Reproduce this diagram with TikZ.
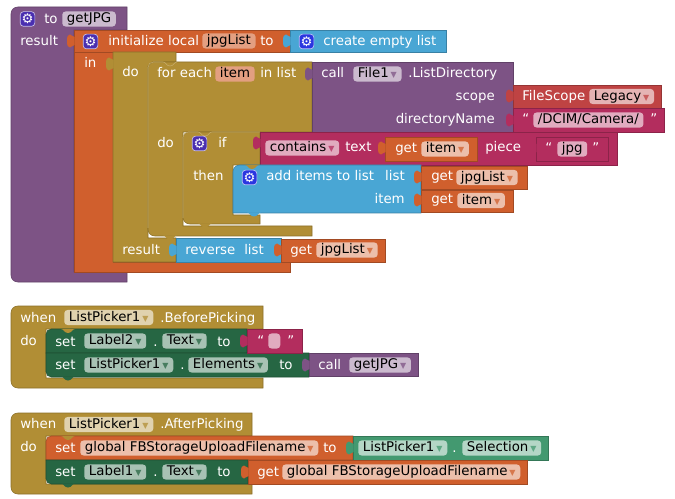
\documentclass[tikz,border=0pt]{standalone}
\usepackage{fontspec}
\setmainfont{DejaVu Sans}
\definecolor{cproc}{HTML}{7D5385}
\definecolor{cvar}{HTML}{D05F2D}
\definecolor{cctrl}{HTML}{B18E35}
\definecolor{clist}{HTML}{49A6D4}
\definecolor{ctext}{HTML}{B32D5E}
\definecolor{cset}{HTML}{266643}
\definecolor{cget}{HTML}{439970}
\definecolor{copt}{HTML}{BF4343}
\definecolor{cgear}{HTML}{4A2FB0}
\definecolor{cgearb}{HTML}{2A36E0}
\tikzset{
  block/.style={fill=#1,draw=#1!78!black,line width=.4pt},
  hilite/.style={draw=cctrl!72!white,line width=.4pt},
  lbl/.style={anchor=base west,inner sep=0pt,text=white},
  rlbl/.style={anchor=base east,inner sep=0pt,text=white},
  pill/.style={anchor=west,fill=#1,rounded corners=2.5pt,inner xsep=3.5pt,inner ysep=.9pt,text=black,text height=7.5pt,text depth=2pt},
  gearbox/.style={fill=#1,draw=white!70!#1,line width=.5pt,rounded corners=2.5pt,minimum size=11pt,inner sep=0pt,text=white,font=\fontsize{10}{10}\selectfont}
}
\newcommand{\tabat}[3]{\begin{scope}[shift={(#1,#2)}]
    \fill [#3] (.5,-4) .. controls (-2,-4) and (-2,-6.5) .. (-4,-6.5) .. controls (-6,-6.5) and (-7,-5) .. (-7,0) .. controls (-7,5) and (-6,6.5) .. (-4,6.5) .. controls (-2,6.5) and (-2,4) .. (.5,4) -- cycle;
  \end{scope}}
\newcommand{\notchat}[3]{\begin{scope}[shift={(#1,#2)}]
    \fill [#3] (0,0) .. controls (3,0) and (3,4) .. (7,4) .. controls (11,4) and (11,0) .. (14,0) -- cycle;
  \end{scope}}
\newcommand{\drop}[1]{\hspace{1.5pt}{\color{#1!85!white}\fontsize{6}{6}\selectfont ▼}}

\begin{document}
\begin{tikzpicture}[x=.75pt,y=-.75pt,font=\fontsize{10}{12}\selectfont]
  \useasboundingbox (0,0) rectangle (675,499);

  % function block
  \draw [block=cproc] (127,7) -- (127,30) -- (74,30) -- (74,272) -- (127,272) -- (127,282) [rounded corners=5pt] -- (11,282) -- (11,7) [sharp corners] -- (127,7) -- cycle;
  \draw [block=cvar] (74,30) rectangle (290,52);
  \draw [block=cvar] (74,52) -- (113,52) -- (113,262) -- (290,262) -- (290,272) -- (74,272) -- cycle;
  \draw [block=cctrl] (176,52) -- (176,62) -- (152,62) -- (148,66) -- (148,238) -- (176,238) -- (176,262) -- (113,262) -- (113,52) -- cycle;
  \draw [block=clist] (290,30) rectangle (446,52);
  \draw [block=clist] (176,238) rectangle (281,262);
  \draw [block=cvar] (281,239) rectangle (385,262);

  % for each
  \draw [block=cctrl] (312,62) -- (312,132) -- (183,132) -- (183,226) -- (312,226) -- (312,236) [rounded corners=5pt] -- (148,236) -- (148,62) [sharp corners] -- (312,62) -- cycle;
  \notchat{163}{235.5}{cctrl}
  \draw [hilite] (148,228) [rounded corners=4pt] -- (148,62) [sharp corners] -- (163,62) .. controls (166,62) and (166,66) .. (170,66) .. controls (174,66) and (174,62) .. (177,62);
  \draw [block=cproc] (312,62) rectangle (513,132);
  \draw [block=copt] (513,85) rectangle (661,108);
  \draw [block=ctext] (513,108.5) rectangle (664,132);

  % if then
  \draw [block=cctrl] (260,132) -- (260,165) -- (233,165) -- (233,215) -- (260,215) -- (260,224) [rounded corners=5pt] -- (183,224) -- (183,132) [sharp corners] -- (260,132) -- cycle;
  \notchat{198}{223.5}{cctrl}
  \draw [hilite] (183,218) [rounded corners=4pt] -- (183,132) [sharp corners] -- (198,132) .. controls (201,132) and (201,136) .. (205,136) .. controls (209,136) and (209,132) .. (212,132) -- (260,132);
  \draw [block=ctext] (260,132) rectangle (617,165);
  \draw [block=cvar] (385,137) rectangle (477,161);
  \draw [block=ctext] (536,137) rectangle (608,161);
  \draw [block=clist] (421,165) -- (421,213) -- (233,213) [rounded corners=5pt] -- (233,165) [sharp corners] -- (421,165) -- cycle;
  \notchat{247}{212.5}{clist}
  \notchat{245}{165}{cctrl}
  \draw [block=cvar] (421,166) rectangle (527,189);
  \draw [block=cvar] (421,190) rectangle (513,212);

  % before picking
  \draw [block=cctrl] (263,329) -- (46,329) -- (46,378) -- (263,378) -- (263,388) [rounded corners=5pt] -- (11,388) -- (11,306) [sharp corners] -- (263,306) -- cycle;
  \draw [block=cset] (247,329) -- (247,353) -- (46,353) [rounded corners=4pt] -- (46,329) [sharp corners] -- (247,329) -- cycle;
  \draw [block=cset] (309,353) -- (309,377) [rounded corners=4pt] -- (46,377) [sharp corners] -- (46,353) -- (309,353) -- cycle;
  \notchat{61}{329}{cctrl}
  \notchat{61}{376.5}{cset}
  \draw [block=ctext] (247,329) rectangle (302,353);
  \draw [block=cproc] (309,353) rectangle (418,376);

  % after picking
  \draw [block=cctrl] (252,436) -- (46,436) -- (46,484) -- (252,484) -- (252,494) [rounded corners=5pt] -- (11,494) -- (11,413) [sharp corners] -- (252,413) -- cycle;
  \draw [block=cvar] (353,436) -- (353,460) -- (46,460) [rounded corners=4pt] -- (46,436) [sharp corners] -- (353,436) -- cycle;
  \draw [block=cset] (248,460) -- (248,484) [rounded corners=4pt] -- (46,484) [sharp corners] -- (46,460) -- (248,460) -- cycle;
  \notchat{61}{436}{cctrl}
  \notchat{61}{483.5}{cset}
  \draw [block=cget] (353,436) rectangle (548,460);
  \draw [block=cvar] (248,460) rectangle (527,484);

  % puzzle tabs
  \tabat{74}{41}{cvar}
  \tabat{290}{41}{clist}
  \tabat{113}{64}{cctrl}
  \tabat{312}{74}{cproc}
  \tabat{513}{96}{copt}
  \tabat{513}{120}{ctext}
  \tabat{260}{143}{ctext}
  \tabat{385}{148}{cvar}
  \tabat{536}{148}{ctext}
  \tabat{421}{177}{cvar}
  \tabat{421}{200}{cvar}
  \tabat{176}{250}{clist}
  \tabat{281}{250}{cvar}
  \tabat{247}{341}{ctext}
  \tabat{309}{365}{cproc}
  \tabat{353}{448}{cget}
  \tabat{248}{472}{cvar}

  % function labels
  \node (gearproc) at (27.5,19) [gearbox=cgear] {⚙};
  \node (lto) at (44,24) [lbl] {to};
  \node (pgetjpg) at (62,19) [pill=cproc!40!white] {getJPG};
  \node (lresult) at (20,46) [lbl] {result};
  \node (gearinit) at (90.5,41.5) [gearbox=cgear] {⚙};
  \node (linit) at (108,46) [lbl] {initialize local};
  \node (pjpglist) at (202,41) [pill=cvar!60!white] {jpgList};
  \node (linitto) at (260,46) [lbl] {to};
  \node (gearempty) at (306.5,41.5) [gearbox=cgearb] {⚙};
  \node (lempty) at (323,46) [lbl] {create empty list};
  \node (lin) at (84,68) [lbl] {in};
  \node (ldo) at (122,77) [lbl] {do};
  \node (lforeach) at (157,78) [lbl] {for each};
  \node (pitem) at (215,74) [pill=cvar!60!white] {item};
  \node (linlist) at (260,78) [lbl] {in list};
  \node (lcall) at (321,78) [lbl] {call};
  \node (pfile) at (353,74) [pill=cproc!40!white] {File1\drop{cproc}};
  \node (llistdir) at (408,78) [lbl] {.ListDirectory};
  \node (lscope) at (495,101) [rlbl] {scope};
  \node (ldirname) at (495,124) [rlbl] {directoryName};
  \node (lfilescope) at (522,101) [lbl] {FileScope};
  \node (plegacy) at (589,96.5) [pill=copt!40!white] {Legacy\drop{copt}};
  \node (lqdcim) at (522,124) [lbl] {“};
  \node (pdcim) at (533,120) [pill=ctext!40!white] {/DCIM/Camera/};
  \node (lqdcimb) at (650,124) [lbl] {”};

  % if labels
  \node (ldotwo) at (157,148) [lbl] {do};
  \node (gearif) at (199.5,143.5) [gearbox=cgear] {⚙};
  \node (lif) at (218,148) [lbl] {if};
  \node (pcontains) at (265,148) [pill=ctext!40!white] {contains\drop{ctext}};
  \node (ltext) at (345,152) [lbl] {text};
  \node (lgetitem) at (395,153) [lbl] {get};
  \node (pgetitem) at (421,149) [pill=cvar!40!white] {item\drop{cvar}};
  \node (lpiece) at (485,152) [lbl] {piece};
  \node (lqjpg) at (545,153) [lbl] {“};
  \node (pjpg) at (557,149) [pill=ctext!40!white] {jpg};
  \node (lqjpgb) at (592,153) [lbl] {”};
  \node (lthen) at (193,181) [lbl] {then};
  \node (gearadd) at (249.5,177.5) [gearbox=cgearb] {⚙};
  \node (ladd) at (266,181) [lbl] {add items to list};
  \node (llist) at (405,181) [rlbl] {list};
  \node (laddget) at (431,181) [lbl] {get};
  \node (paddget) at (456,177.5) [pill=cvar!40!white] {jpgList\drop{cvar}};
  \node (litem) at (405,204) [rlbl] {item};
  \node (litemget) at (431,204) [lbl] {get};
  \node (pitemget) at (457,200.5) [pill=cvar!40!white] {item\drop{cvar}};
  \node (lrestwo) at (122,254) [lbl] {result};
  \node (lreverse) at (185,254) [lbl] {reverse};
  \node (lrevlist) at (244,254) [lbl] {list};
  \node (lrevget) at (290,254) [lbl] {get};
  \node (prevget) at (316,250) [pill=cvar!40!white] {jpgList\drop{cvar}};

  % before picking labels
  \node (lwhen) at (20,322) [lbl] {when};
  \node (pbefore) at (64,317.5) [pill=cctrl!40!white] {ListPicker1\drop{cctrl}};
  \node (lbefore) at (160,322) [lbl] {.BeforePicking};
  \node (lbdo) at (20,345) [lbl] {do};
  \node (lsetlabel) at (55,346) [lbl] {set};
  \node (plabeltwo) at (84,341) [pill=cset!40!white] {Label2\drop{cset}};
  \node (ldotlabel) at (153,346) [lbl] {.};
  \node (ptexttwo) at (162,341) [pill=cset!40!white] {Text\drop{cset}};
  \node (ltwoto) at (217,346) [lbl] {to};
  \node (lqempty) at (257,345) [lbl] {“};
  \node (pempty) at (268,341) [pill=ctext!40!white,minimum width=9pt] {};
  \node (lqemptyb) at (287,345) [lbl] {”};
  \node (lsetpicker) at (55,369) [lbl] {set};
  \node (ppicker) at (84,365) [pill=cset!40!white] {ListPicker1\drop{cset}};
  \node (ldotpicker) at (180,369) [lbl] {.};
  \node (pelements) at (188,365) [pill=cset!40!white] {Elements\drop{cset}};
  \node (lelemto) at (279,369) [lbl] {to};
  \node (lcallget) at (318,369) [lbl] {call};
  \node (pcallget) at (349,365) [pill=cproc!40!white] {getJPG\drop{cproc}};

  % after picking labels
  \node (lwhentwo) at (20,428) [lbl] {when};
  \node (pafter) at (64,424.5) [pill=cctrl!40!white] {ListPicker1\drop{cctrl}};
  \node (lafter) at (160,428) [lbl] {.AfterPicking};
  \node (ladodo) at (20,451) [lbl] {do};
  \node (lsetglobal) at (55,452) [lbl] {set};
  \node (pglobal) at (80,448) [pill=cvar!40!white] {global FBStorageUploadFilename\drop{cvar}};
  \node (lglobalto) at (323,452) [lbl] {to};
  \node (ppickerselect) at (358,448) [pill=cget!40!white] {ListPicker1\drop{cget}};
  \node (ldotselect) at (452,452) [lbl] {.};
  \node (pselect) at (462,448) [pill=cget!40!white] {Selection\drop{cget}};
  \node (lsetone) at (55,476) [lbl] {set};
  \node (plabelone) at (84,472) [pill=cset!40!white] {Label1\drop{cset}};
  \node (ldotone) at (153,476) [lbl] {.};
  \node (ptextone) at (162,472) [pill=cset!40!white] {Text\drop{cset}};
  \node (loneto) at (217,476) [lbl] {to};
  \node (lgetglobal) at (257,476) [lbl] {get};
  \node (pgetglobal) at (282,472) [pill=cvar!40!white] {global FBStorageUploadFilename\drop{cvar}};
\end{tikzpicture}
\end{document}
